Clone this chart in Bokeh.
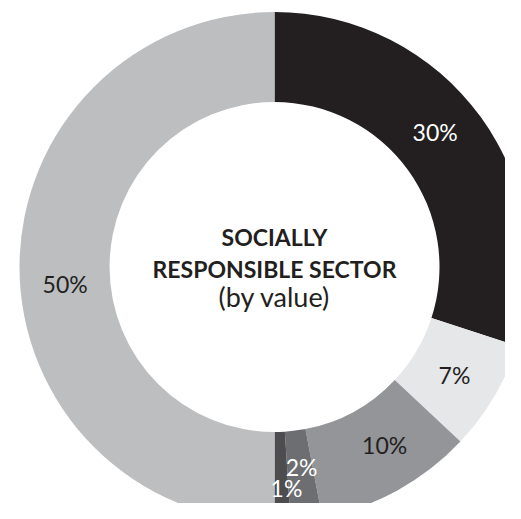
import math
from bokeh.plotting import figure
from bokeh.models import Range1d, ColumnDataSource
from bokeh.core.properties import value
from bokeh.embed import file_html
from bokeh.resources import INLINE

# ---- data ----
categories = ["A", "B", "C", "D", "E", "F"]
shares = [30, 7, 10, 2, 1, 50]
labels = ["30%", "7%", "10%", "2%", "1%", "50%"]
colors = ["#231f20", "#e6e7e8", "#939598", "#6d6e71", "#4d4d4f", "#bcbec0"]
label_colors = ["#ffffff", "#231f20", "#231f20", "#ffffff", "#ffffff", "#231f20"]
title_lines = ["SOCIALLY", "RESPONSIBLE SECTOR"]
subtitle = "(by value)"

# ---- layout (pixel coordinates, y downward negated) ----
W, H = 505, 503
CX, CY = 274, -266.5
R_OUT, R_IN = 255, 165
lab_r = [210, 210, 209, 202, 221, 210]
lab_da = [4.1, -0.4, 3.0, 0.5, 1.3, 4.6]

total = float(sum(shares))
starts, ends, lx, ly = [], [], [], []
cum = 0.0
for i, s in enumerate(shares):
    a0 = math.pi / 2 - 2 * math.pi * cum / total
    cum += s
    a1 = math.pi / 2 - 2 * math.pi * cum / total
    starts.append(a1)
    ends.append(a0)
    mid = (a0 + a1) / 2 + math.radians(lab_da[i])
    lx.append(CX + lab_r[i] * math.cos(mid))
    ly.append(CY + lab_r[i] * math.sin(mid))

src = ColumnDataSource(dict(cat=categories, start=starts, end=ends, color=colors,
                            lx=lx, ly=ly, label=labels, lcol=label_colors))

p = figure(width=W, height=H, output_backend="svg", toolbar_location=None,
           x_range=Range1d(0, W), y_range=Range1d(-H, 0),
           x_axis_type=None, y_axis_type=None, min_border=0)
p.outline_line_color = None
p.grid.visible = False
p.background_fill_color = "#ffffff"
p.border_fill_color = "#ffffff"

p.annular_wedge(x=CX, y=CY, inner_radius=R_IN, outer_radius=R_OUT,
                start_angle="start", end_angle="end", direction="anticlock",
                fill_color="color", line_color=None, source=src)

p.text(x="lx", y="ly", text="label", text_color="lcol", source=src,
       text_font=value("Lato"), text_font_size="23px",
       text_align="center", text_baseline="middle")

p.text(x=[CX, CX], y=[CY + 30, CY - 1.5], text=title_lines,
       text_font=value("Lato"), text_font_style="bold", text_font_size="23px",
       text_color="#231f20", text_align="center", text_baseline="middle")
p.text(x=[CX], y=[CY - 29], text=[subtitle],
       text_font=value("Lato"), text_font_size="27px",
       text_color="#231f20", text_align="center", text_baseline="middle")

open("out.html", "w").write(file_html(p, INLINE))
